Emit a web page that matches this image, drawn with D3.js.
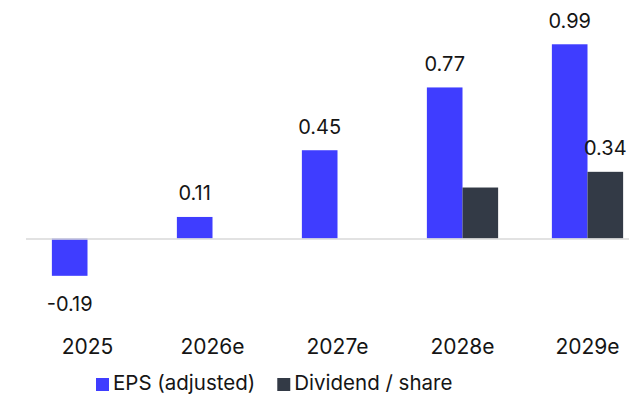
<!DOCTYPE html>
<html>
<head>
<meta charset="utf-8">
<script src="https://cdn.jsdelivr.net/npm/d3@7"></script>
<style>
  html, body { margin: 0; padding: 0; background: #fff; }
  svg { display: block; font-family: Inter, "Noto Sans", sans-serif; }
</style>
</head>
<body>
<svg id="chart" width="629" height="395"></svg>
<script>
// Years shown on the category axis
const years = ["2025", "2026e", "2027e", "2028e", "2029e"];
// Adjusted earnings per share
const eps = [-0.19, 0.11, 0.45, 0.77, 0.99];
// Dividend per share (null = no dividend)
const dividend = [null, null, null, 0.26, 0.34];
// Which dividend values carry a printed label
const dividendLabelled = [false, false, false, false, true];

const seriesNames = ["EPS (adjusted)", "Dividend / share"];
const seriesColors = ["#3f3dff", "#333a46"];
const textColor = "#151515";

const svg = d3.select("#chart");

const x = d3.scaleBand().domain(years).range([25, 650])
  .paddingInner(0.43).paddingOuter(0.215);
const xi = d3.scaleBand().domain([0, 1]).range([0, x.bandwidth()]);
const y = d3.scaleLinear().domain([-0.3, 1.1]).range([297.4, 22.7]);

const rows = years.map((yr, i) => ({
  year: yr,
  values: [
    { s: 0, v: eps[i], label: true },
    { s: 1, v: dividend[i], label: dividendLabelled[i] }
  ].filter(d => d.v !== null)
}));

// plain hyphen for negatives
const fmt = v => d3.format(".2f")(v).replace("\u2212", "-");

const groups = svg.selectAll("g.cat").data(rows).join("g")
  .attr("class", "cat")
  .attr("transform", d => `translate(${x(d.year)},0)`);

groups.selectAll("rect").data(d => d.values).join("rect")
  .attr("x", d => xi(d.s))
  .attr("width", xi.bandwidth())
  .attr("y", d => y(Math.max(0, d.v)))
  .attr("height", d => Math.abs(y(d.v) - y(0)))
  .attr("fill", d => seriesColors[d.s]);

groups.selectAll("text.val").data(d => d.values.filter(v => v.label)).join("text")
  .attr("class", "val")
  .attr("x", d => xi(d.s) + xi.bandwidth() / 2)
  .attr("y", d => d.v >= 0 ? y(d.v) - 16.5 : y(d.v) + 35)
  .attr("text-anchor", "middle")
  .attr("font-size", 20)
  .attr("fill", textColor)
  .text(d => fmt(d.v));

// zero baseline
svg.append("line")
  .attr("x1", 26).attr("x2", 629)
  .attr("y1", y(0) + 0.5).attr("y2", y(0) + 0.5)
  .attr("stroke", "#d9d9d9").attr("stroke-width", 1.5);

// category axis (labels only)
const xAxis = svg.append("g")
  .attr("transform", "translate(0,354)")
  .call(d3.axisBottom(x).tickSize(0).tickPadding(0));
xAxis.select(".domain").remove();
xAxis.selectAll("text")
  .attr("font-family", "Inter, 'Noto Sans', sans-serif")
  .attr("font-size", 21)
  .attr("fill", textColor)
  .attr("y", 0)
  .attr("dy", 0);

// legend
const legend = svg.append("g").attr("transform", "translate(96,378)");
let lx = 0;
seriesNames.forEach((name, i) => {
  const g = legend.append("g").attr("transform", `translate(${lx},0)`);
  g.append("rect").attr("width", 13).attr("height", 13).attr("fill", seriesColors[i]);
  const t = g.append("text").attr("x", 17).attr("y", 12)
    .attr("font-size", 20.5).attr("fill", textColor).text(name);
  lx += 17 + t.node().getComputedTextLength() + 22;
});
</script>
</body>
</html>
